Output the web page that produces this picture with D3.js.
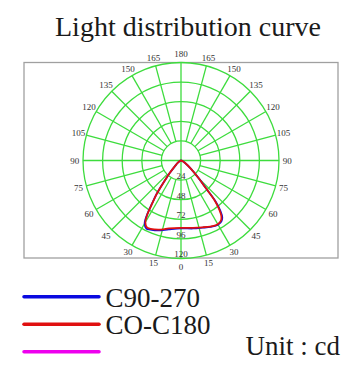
<!DOCTYPE html>
<html>
<head>
<meta charset="utf-8">
<script src="https://cdn.jsdelivr.net/npm/d3@7"></script>
<style>
  html, body { margin: 0; padding: 0; background: #fff; }
  svg { display: block; }
  text { font-family: "Liberation Serif", "DejaVu Serif", serif; }
</style>
</head>
<body>
<svg id="chart" width="363" height="376"></svg>
<script>
// ---- data ----
const title = "Light distribution curve";
const ringValues = [24, 48, 72, 96, 120];
const angleTicks = [0, 15, 30, 45, 60, 75, 90, 105, 120, 135, 150, 165, 180];
// signed angle from nadir: negative = left half, positive = right half
const curveAngles = [-90, -70, -55, -47, -42, -39, -36, -34, -32, -30, -27, -24, -18, -10, 0,
                     10, 18, 24, 28, 31, 34, 36, 38, 40, 42, 45, 50, 60, 75, 90];
const c90_270 = [0, 1.5, 5, 10, 21, 31.5, 51, 63, 78.5, 89, 93.5, 92.5, 90, 85.5, 83,
                 84.5, 86.5, 89, 90.5, 90.5, 89, 86, 78.5, 67, 46, 30.5, 16, 5, 1.5, 0];
const c0_c180 = [0, 1.5, 5, 10, 21, 31, 50.4, 62, 77.7, 87.3, 92, 91.6, 89, 84.5, 82.5,
                 83.7, 86, 88.5, 90, 89.8, 88, 84, 76, 65, 45, 30, 16, 5, 1.5, 0];
const legendLabels = ["C90-270", "CO-C180", ""];
const legendColors = ["#0a0ae0", "#e01010", "#ee00ee"];
const unitLabel = "Unit : cd";

// ---- layout ----
const svg = d3.select("#chart");
const cx = 181, cy = 160.5, R = 98;
const frame = { x0: 24, y0: 62.5, x1: 338, y1: 258 };
const green = "#3ddc3d";

const rScale = d3.scaleLinear().domain([0, 120]).range([0, R]);
// lineRadial angle: 0 = up, clockwise; our theta 0 = down, positive = right
const aScale = d3.scaleLinear().domain([-180, 180]).range([2 * Math.PI, 0]);

svg.append("text")
  .attr("x", 188).attr("y", 35.5)
  .attr("text-anchor", "middle")
  .attr("font-size", 28).attr("fill", "#1a1a1a")
  .text(title);

svg.append("rect")
  .attr("x", frame.x0).attr("y", frame.y0)
  .attr("width", frame.x1 - frame.x0).attr("height", frame.y1 - frame.y0)
  .attr("fill", "none").attr("stroke", "#a0a0a0").attr("stroke-width", 1.3);

const g = svg.append("g").attr("transform", `translate(${cx},${cy})`);

// rings
g.selectAll("circle.ring").data(ringValues).join("circle")
  .attr("class", "ring")
  .attr("r", d => rScale(d))
  .attr("fill", "none").attr("stroke", green).attr("stroke-width", 1.3);

// radial spokes every 15 degrees
const spokes = [];
for (let a = -165; a <= 180; a += 15) spokes.push(a);
const px = (theta, v) => rScale(v) * Math.sin(Math.PI - aScale(theta) + Math.PI) ;
function pt(theta, v) {
  const a = aScale(theta);
  return [rScale(v) * Math.sin(a), -rScale(v) * Math.cos(a)];
}
g.selectAll("line.spoke").data(spokes).join("line")
  .attr("class", "spoke")
  .each(function (d) {
    const inner = (d % 90 === 0) ? 0 : ringValues[0];
    const p0 = pt(d, inner), p1 = pt(d, 120);
    d3.select(this).attr("x1", p0[0]).attr("y1", p0[1]).attr("x2", p1[0]).attr("y2", p1[1]);
  })
  .attr("stroke", green).attr("stroke-width", 1.3);

// angle labels
const angleLabelData = [];
angleTicks.forEach(t => {
  angleLabelData.push({ t: t, v: t });
  if (t !== 0 && t !== 180) angleLabelData.push({ t: -t, v: t });
});
g.selectAll("text.ang").data(angleLabelData).join("text")
  .attr("class", "ang")
  .attr("x", d => pt(d.t, 130)[0])
  .attr("y", d => pt(d.t, 130)[1])
  .attr("text-anchor", "middle").attr("dominant-baseline", "central")
  .attr("font-size", 9).attr("fill", "#333")
  .text(d => d.v);

// curves
const line = d3.lineRadial()
  .angle(d => aScale(d[0]))
  .radius(d => rScale(d[1]))
  .curve(d3.curveCatmullRom.alpha(0.5));

g.append("path")
  .datum(curveAngles.map((a, i) => [a, c90_270[i]]))
  .attr("d", line).attr("fill", "none")
  .attr("stroke", legendColors[0]).attr("stroke-width", 1.8);
g.append("path")
  .datum(curveAngles.map((a, i) => [a, c0_c180[i]]))
  .attr("d", line).attr("fill", "none")
  .attr("stroke", legendColors[1]).attr("stroke-width", 1.8);

// ring value labels along nadir
g.selectAll("text.rv").data(ringValues).join("text")
  .attr("class", "rv")
  .attr("x", 0).attr("y", d => rScale(d) - 1.2)
  .attr("text-anchor", "middle")
  .attr("font-size", 9).attr("fill", "#333")
  .text(d => d);

// legend
const legY = [296.7, 324.3, 351.7];
legendColors.forEach((c, i) => {
  svg.append("line")
    .attr("x1", 24).attr("x2", 99).attr("y1", legY[i]).attr("y2", legY[i])
    .attr("stroke", c).attr("stroke-width", 3.5).attr("stroke-linecap", "round");
  if (legendLabels[i]) {
    svg.append("text")
      .attr("x", 105.5).attr("y", legY[i] + 10)
      .attr("font-size", 27).attr("fill", "#1a1a1a")
      .text(legendLabels[i]);
  }
});
svg.append("text")
  .attr("x", 245.5).attr("y", 354.5)
  .attr("font-size", 27).attr("fill", "#1a1a1a")
  .text(unitLabel);
</script>
</body>
</html>
